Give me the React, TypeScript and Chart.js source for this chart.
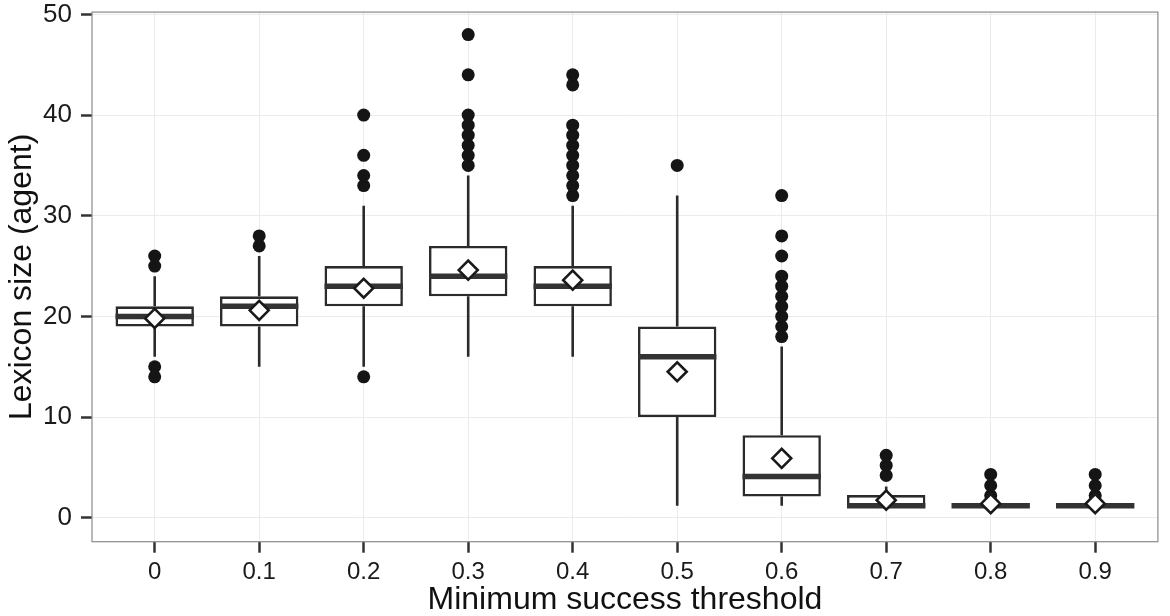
import React, { useEffect, useRef } from 'react';
import { Chart, registerables } from 'chart.js';

Chart.register(...registerables);

const categories = ['0', '0.1', '0.2', '0.3', '0.4', '0.5', '0.6', '0.7', '0.8', '0.9'];
const lowerWhisker = [16, 15, 15, 16, 16, 1.2, 1.2, 1.0, 1.2, 1.2];
const q1Values = [19, 19, 21, 22, 21, 10, 2.1, 1.0, 1.2, 1.2];
const medianValues = [20, 21, 23, 24, 23, 16, 4.1, 1.2, 1.2, 1.2];
const q3Values = [21, 22, 25, 27, 25, 19, 8.2, 2.25, 1.2, 1.2];
const upperWhisker = [24, 26, 31, 34, 31, 32, 17, 3.1, 1.2, 1.2];
const meanValues = [19.8, 20.6, 22.8, 24.6, 23.6, 14.5, 5.9, 1.75, 1.4, 1.4];
const outlierValues = [
  [14, 15, 25, 26],
  [27, 28],
  [14, 33, 34, 36, 40],
  [35, 36, 37, 38, 39, 40, 44, 48],
  [32, 33, 34, 35, 36, 37, 38, 39, 43, 44],
  [35],
  [18, 19, 20, 21, 22, 23, 24, 26, 28, 32],
  [4.2, 5.2, 6.2],
  [2.2, 3.2, 4.3],
  [2.2, 3.2, 4.3],
];
const yTicks = [0, 10, 20, 30, 40, 50];
const xTitle = 'Minimum success threshold';
const yTitle = 'Lexicon size (agent)';

const FONT = "'Liberation Sans', Arial, Helvetica, sans-serif";
const INK = '#2b2b2b';

export default function App() {
  const ref = useRef<HTMLCanvasElement>(null);

  useEffect(() => {
    document.body.style.margin = '0';
    const canvas = ref.current;
    if (!canvas) return;

    const boxPlugin = {
      id: 'boxParts',
      beforeDatasetDraw(chart: any, args: any) {
        if (args.index !== 2) return;
        const { ctx } = chart;
        const xs = chart.scales.x;
        const ys = chart.scales.y;
        ctx.save();
        ctx.strokeStyle = INK;
        ctx.lineWidth = 2.6;
        categories.forEach((_, i) => {
          const px = xs.getPixelForValue(i);
          ctx.beginPath();
          ctx.moveTo(px, ys.getPixelForValue(upperWhisker[i]));
          ctx.lineTo(px, ys.getPixelForValue(q3Values[i]));
          ctx.moveTo(px, ys.getPixelForValue(q1Values[i]));
          ctx.lineTo(px, ys.getPixelForValue(lowerWhisker[i]));
          ctx.stroke();
        });
        ctx.restore();
      },
      afterDatasetDraw(chart: any, args: any) {
        if (args.index !== 2) return;
        const { ctx } = chart;
        const ys = chart.scales.y;
        const meta = chart.getDatasetMeta(2);
        ctx.save();
        ctx.strokeStyle = '#333';
        ctx.lineWidth = 5.5;
        meta.data.forEach((bar: any, i: number) => {
          const { x, width } = bar.getProps(['x', 'width'], true);
          const py = ys.getPixelForValue(medianValues[i]);
          ctx.beginPath();
          ctx.moveTo(x - width / 2, py);
          ctx.lineTo(x + width / 2, py);
          ctx.stroke();
        });
        ctx.restore();
      },
      afterDraw(chart: any) {
        const { ctx, chartArea } = chart;
        ctx.save();
        ctx.strokeStyle = '#8a8a8a';
        ctx.lineWidth = 1.2;
        ctx.strokeRect(chartArea.left, chartArea.top, chartArea.right - chartArea.left, chartArea.bottom - chartArea.top);
        ctx.restore();
      },
    };

    const chart = new Chart(canvas, {
      type: 'scatter',
      data: {
        datasets: [
          {
            type: 'scatter',
            label: 'mean',
            data: meanValues.map((v, i) => ({ x: i, y: v })),
            pointStyle: 'rectRot',
            pointRadius: 9.5,
            pointBackgroundColor: '#ffffff',
            pointBorderColor: '#1a1a1a',
            pointBorderWidth: 2.6,
            order: 0,
          },
          {
            type: 'scatter',
            label: 'outliers',
            data: outlierValues.flatMap((arr, i) => arr.map((v) => ({ x: i, y: v }))),
            pointStyle: 'circle',
            pointRadius: 6.5,
            pointBackgroundColor: '#151515',
            pointBorderColor: '#151515',
            pointBorderWidth: 0,
            order: 1,
          },
          {
            type: 'bar',
            label: 'box',
            data: q1Values.map((v, i) => ({ x: i, y: [v, q3Values[i]] })),
            backgroundColor: '#ffffff',
            borderColor: INK,
            borderWidth: 2.6,
            borderSkipped: false,
            categoryPercentage: 0.75,
            barPercentage: 1,
            order: 2,
          } as any,
        ],
      },
      options: {
        responsive: false,
        animation: false,
        events: [],
        layout: { padding: { top: 11.7, right: 5, left: 0, bottom: 0 } },
        plugins: { legend: { display: false }, tooltip: { enabled: false } },
        scales: {
          x: {
            type: 'linear',
            min: -0.6,
            max: 9.6,
            offset: false,
            afterBuildTicks: (s: any) => {
              s.ticks = categories.map((_, i) => ({ value: i }));
            },
            afterFit: (s: any) => {
              s.height = 74.3;
            },
            ticks: {
              callback: (v: any) => categories[Math.round(Number(v))] ?? '',
              font: { family: FONT, size: 24, lineHeight: 1 },
              color: '#1a1a1a',
              padding: 8,
              maxRotation: 0,
              autoSkip: false,
            },
            grid: {
              color: '#ebebeb',
              lineWidth: 1,
              tickColor: '#333',
              tickWidth: 2.5,
              tickLength: 11,
              drawTicks: true,
              offset: false,
            },
            border: { display: false },
            title: {
              display: true,
              text: xTitle,
              font: { family: FONT, size: 32, lineHeight: 1 },
              color: '#111',
              padding: { top: 0, bottom: 0 },
            },
          },
          y: {
            type: 'linear',
            min: -2.38,
            max: 50.23,
            afterBuildTicks: (s: any) => {
              s.ticks = yTicks.map((v) => ({ value: v }));
            },
            afterFit: (s: any) => {
              s.width = 92;
            },
            ticks: {
              callback: (v: any) => String(v),
              font: { family: FONT, size: 26, lineHeight: 0.15 },
              color: '#1a1a1a',
              padding: 9,
            },
            grid: {
              color: '#ebebeb',
              lineWidth: 1,
              tickColor: '#333',
              tickWidth: 2.5,
              tickLength: 11,
              drawTicks: true,
            },
            border: { display: false },
            title: {
              display: true,
              text: yTitle,
              font: { family: FONT, size: 32, lineHeight: 1 },
              color: '#111',
              padding: { top: 6, bottom: 0 },
            },
          },
        },
      },
      plugins: [boxPlugin],
    } as any);

    return () => chart.destroy();
  }, []);

  return <canvas ref={ref} width={1170} height={616} style={{ display: 'block' }} />;
}
